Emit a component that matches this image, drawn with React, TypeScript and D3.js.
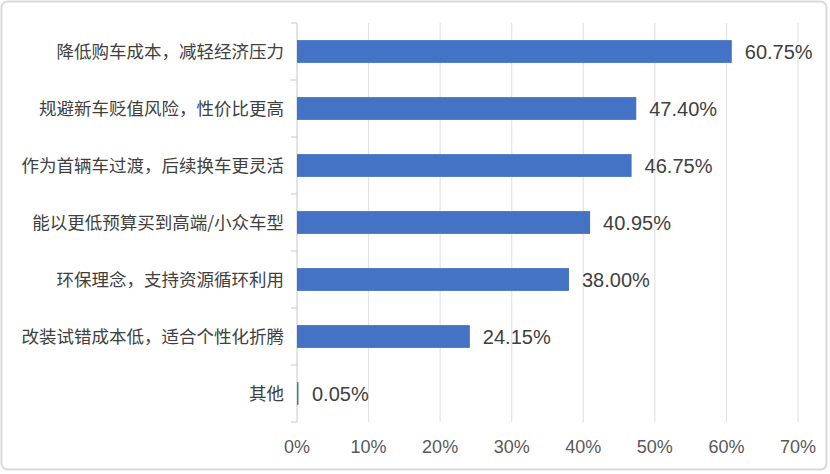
import React from "react";
import * as d3 from "d3";

const categories = [
  "降低购车成本，减轻经济压力",
  "规避新车贬值风险，性价比更高",
  "作为首辆车过渡，后续换车更灵活",
  "能以更低预算买到高端/小众车型",
  "环保理念，支持资源循环利用",
  "改装试错成本低，适合个性化折腾",
  "其他",
];
const values = [60.75, 47.4, 46.75, 40.95, 38.0, 24.15, 0.05];
const xTicks = [0, 10, 20, 30, 40, 50, 60, 70];

const W = 830;
const H = 474;
const left = 297;
const right = 798;
const top = 23;
const bottom = 422;

export default function App() {
  const x = d3.scaleLinear().domain([0, 70]).range([left, right]);
  const y = d3
    .scaleBand<string>()
    .domain(categories)
    .range([top, bottom])
    .paddingInner(0.6)
    .paddingOuter(0.3);
  const yb = d3.scaleBand<string>().domain(categories).range([top, bottom]);
  const cjk = "'Noto Sans CJK SC', 'Noto Sans', sans-serif";
  const num = "'Liberation Sans', Arial, Helvetica, sans-serif";
  return (
    <svg
      width={W}
      height={H}
      style={{ position: "absolute", left: 0, top: 0, display: "block" }}
    >
      <rect x={0} y={0} width={W} height={H} fill="#ffffff" />
      <rect
        x={1.5}
        y={1.5}
        width={825}
        height={468}
        rx={6}
        fill="#ffffff"
        stroke="#d9d9d9"
        strokeWidth={2}
      />
      {xTicks.map((t) => (
        <g key={t}>
          {t > 0 && (
            <line
              x1={x(t)}
              x2={x(t)}
              y1={top}
              y2={bottom}
              stroke="#e3e3e3"
              strokeWidth={1.2}
            />
          )}
          <text
            x={x(t)}
            y={453}
            textAnchor="middle"
            fontSize={18}
            fontFamily={num}
            fill="#595959"
          >
            {t}%
          </text>
        </g>
      ))}
      <line x1={left} x2={left} y1={top} y2={bottom} stroke="#d0d0d0" strokeWidth={1.2} />
      {categories.map((c) => (
        <line
          key={"t" + c}
          x1={left - 6}
          x2={left}
          y1={yb(c)!}
          y2={yb(c)!}
          stroke="#d0d0d0"
          strokeWidth={1.2}
        />
      ))}
      <line x1={left - 6} x2={left} y1={bottom} y2={bottom} stroke="#d0d0d0" strokeWidth={1.2} />
      {categories.map((c, i) => {
        const yc = y(c)! + y.bandwidth() / 2;
        const xe = x(values[i]);
        return (
          <g key={c}>
            <rect
              x={left}
              y={y(c)!}
              width={Math.max(xe - left, 1.5)}
              height={y.bandwidth()}
              fill="#4472c4"
            />
            <text
              x={left - 13}
              y={yc}
              dy="0.35em"
              textAnchor="end"
              fontSize={17.5}
              fontFamily={cjk}
              fill="#404040"
            >
              {c}
            </text>
            <text
              x={Math.max(xe, left + 2) + 13}
              y={yc}
              dy="0.36em"
              textAnchor="start"
              fontSize={20}
              fontFamily={num}
              fill="#404040"
            >
              {values[i].toFixed(2)}%
            </text>
          </g>
        );
      })}
    </svg>
  );
}
